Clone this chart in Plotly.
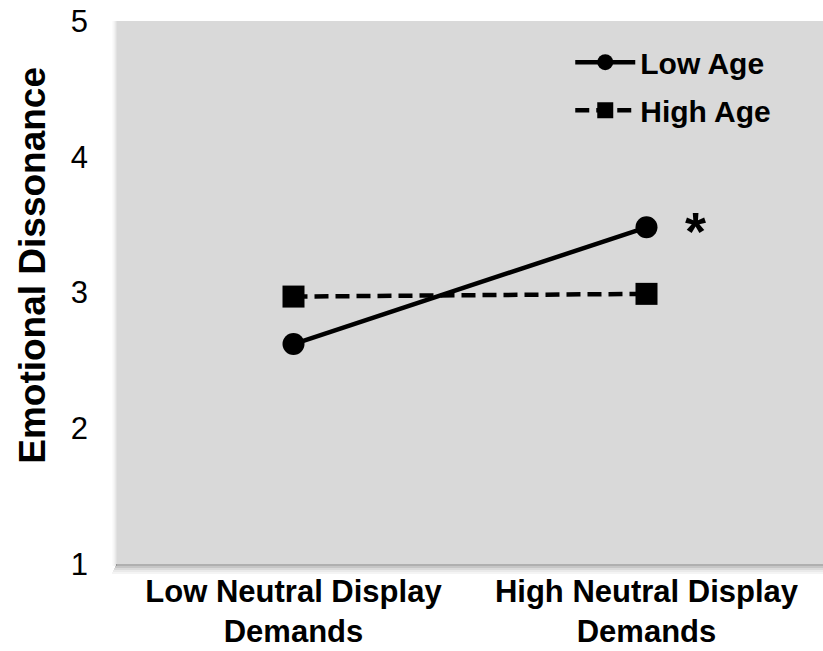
import plotly.graph_objects as go

categories = ["Low Neutral Display<br>Demands", "High Neutral Display<br>Demands"]
low_age = [2.62, 3.48]
high_age = [2.97, 2.99]
y_ticks = [1, 2, 3, 4, 5]
series_names = ["<b>Low Age</b>", "<b>High Age</b>"]

FONT = "Liberation Sans, Arial, sans-serif"

fig = go.Figure()
fig.add_trace(go.Scatter(
    x=categories, y=low_age, name=series_names[0], mode="lines+markers", legendgroup="a",
    line=dict(color="black", width=4.5),
    marker=dict(symbol="circle", size=22, color="black"),
))
fig.add_trace(go.Scatter(
    x=categories, y=high_age, name=series_names[1], mode="lines+markers", legendgroup="b",
    line=dict(color="black", width=4.5, dash="14px,7px"),
    marker=dict(symbol="square", size=22, color="black"),
))

# significance marker
fig.add_annotation(x=categories[1], y=low_age[1], text="<b>*</b>", showarrow=False,
                   xshift=49, yshift=-4, font=dict(size=54, color="black", family=FONT))

# y-axis title
fig.add_annotation(xref="paper", yref="paper", x=-0.119, y=0.551, text="<b>Emotional Dissonance</b>",
                   textangle=-90, showarrow=False, xanchor="center", yanchor="middle",
                   font=dict(size=37, color="black", family=FONT))

# drop shadow strips
shadow = [(0.35, 0), (0.25, 1), (0.16, 2), (0.09, 3), (0.05, 4)]
H = 543.0
W = 706.0
for op, i in shadow:
    fig.add_shape(type="rect", xref="paper", yref="paper",
                  x0=-(2 * i + 2) / W * 0.5, x1=1, y0=-(2 * i + 2) / H, y1=-(2 * i) / H,
                  fillcolor="black", opacity=op * 0.9, line=dict(width=0), layer="below")
for op, i in shadow:
    fig.add_shape(type="rect", xref="paper", yref="paper",
                  x0=-(i + 1) / W, x1=-i / W, y0=-2 / H, y1=1,
                  fillcolor="black", opacity=op * 0.35, line=dict(width=0), layer="below")

fig.update_layout(
    width=823, height=651,
    margin=dict(l=117, r=0, t=21, b=87),
    paper_bgcolor="white", plot_bgcolor="#d9d9d9",
    font=dict(family=FONT, color="black"),
    showlegend=True,
    legend=dict(x=0.642, y=0.972, xanchor="left", yanchor="top",
                bgcolor="rgba(0,0,0,0)", font=dict(size=30, family=FONT),
                itemwidth=60, tracegroupgap=6, traceorder="grouped"),
    xaxis=dict(type="category", range=[-0.5, 1.5], showgrid=False, zeroline=False,
               showline=False, ticks="", automargin=False, ticklabelstandoff=6,
               tickfont=dict(size=31, family=FONT, weight="bold")),
    yaxis=dict(range=[1, 5], tickvals=y_ticks, showgrid=False, zeroline=False,
               showline=False, ticks="", ticklabelstandoff=28, automargin=False,
               tickfont=dict(size=31, family=FONT)),
)

fig.write_html("out.html", config={"displayModeBar": False},
               post_script="document.body.style.margin='0';document.body.style.overflow='hidden';")
